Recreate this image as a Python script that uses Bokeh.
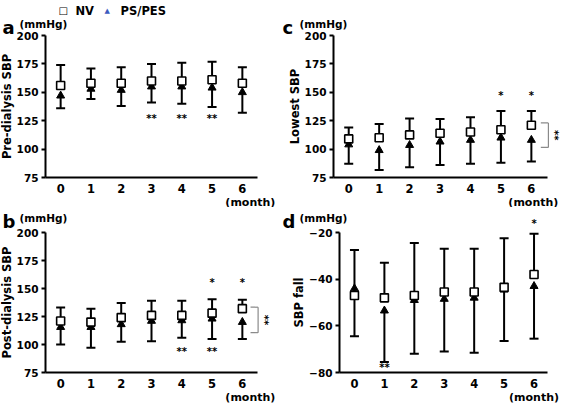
import math
from bokeh.plotting import figure
from bokeh.models import Label, FixedTicker, Range1d, ColumnDataSource
from bokeh.layouts import column, row
from bokeh.embed import file_html
from bokeh.resources import INLINE

# ---------------- data ----------------
months = [0, 1, 2, 3, 4, 5, 6]

# a: Pre-dialysis SBP
pre_nv_mean = [156, 158, 158, 160, 160, 161, 158]
pre_nv_upper = [174, 171, 172, 175, 176, 177, 172]
pre_ps_mean = [147, 153, 152, 155, 155, 154, 150]
pre_ps_lower = [136, 144, 138, 141, 140, 137, 132]

# b: Post-dialysis SBP
post_nv_mean = [121, 120, 124, 126, 126, 128, 132]
post_nv_upper = [133, 132, 137, 139, 139, 140.5, 140]
post_ps_mean = [115.5, 115.5, 118, 121, 121.5, 123, 120]
post_ps_lower = [100, 97, 102.5, 103, 106, 105, 105]

# c: Lowest SBP
low_nv_mean = [109, 110, 112.5, 114, 115, 117, 121]
low_nv_upper = [119, 122, 127, 126.5, 128, 133.5, 133.5]
low_ps_mean = [104, 99, 103.5, 106.5, 108, 110, 108]
low_ps_lower = [87, 81.5, 84, 86, 87, 88, 89]

# d: SBP fall
fall_nv_mean = [-47, -48, -47, -45.5, -45.5, -43.5, -38]
fall_nv_upper = [-27.5, -33, -24.5, -27, -27, -22.5, -20.5]
fall_ps_mean = [-44, -53.5, -49, -48.5, -48, -44.5, -43]
fall_ps_lower = [-64.5, -75.5, -72, -71, -71.5, -66.5, -65.5]

sbp_ticks = [75, 100, 125, 150, 175, 200]
fall_ticks = [-80, -60, -40, -20]

# significance marks (months)
a_sig_below = [3, 4, 5]
b_sig_above = [5, 6]
b_sig_below = [4, 5]
c_sig_above = [5, 6]
d_sig_above = [6]
d_sig_below = [1]

FONT = "DejaVu Sans"
BLUE = "#3c5bbf"


def bold_label(p, x, y, text, size, **kw):
    lab = Label(x=x, y=y, text=text, text_font=FONT, text_font_style="bold",
                text_font_size=size, text_color="black", **kw)
    p.add_layout(lab)
    return lab


def make_panel(width, height, left, right, top, bottom, x_end, y_start, y_end,
               y_ticks, ylabel, letter, nv_mean, nv_upper, ps_mean, ps_lower,
               letter_base, month_dx, month_dy):
    # the frame fills the whole figure; axes are pinned at the data edges
    x_start = -0.5
    xs = (width - left - right) / (x_end - x_start)
    ys = (height - top - bottom) / (y_end - y_start)
    xr = Range1d(x_start - left / xs, x_end + right / xs)
    yr = Range1d(y_start - bottom / ys, y_end + top / ys)
    p = figure(width=width, height=height, output_backend="svg", toolbar_location=None,
               x_range=xr, y_range=yr, min_border=0)
    p.grid.visible = False
    p.outline_line_color = None
    p.background_fill_color = "white"
    p.border_fill_color = "white"

    xa = p.xaxis[0]
    xa.fixed_location = y_start
    xa.bounds = (x_start, x_end)
    xa.ticker = FixedTicker(ticks=months)
    xa.axis_line_width = 2
    xa.major_tick_out = 0
    xa.major_tick_in = 0
    xa.minor_tick_out = 0
    xa.minor_tick_in = 0
    xa.major_label_standoff = 6
    xa.major_label_text_font = FONT
    xa.major_label_text_font_style = "bold"
    xa.major_label_text_font_size = "11.5px"
    xa.major_label_text_color = "black"

    ya = p.yaxis[0]
    ya.fixed_location = x_start
    ya.bounds = (y_start, y_end)
    ya.ticker = FixedTicker(ticks=y_ticks)
    ya.axis_line_width = 2
    ya.major_tick_out = 4
    ya.major_tick_in = 0
    ya.major_tick_line_width = 2
    ya.minor_tick_out = 0
    ya.minor_tick_in = 0
    ya.major_label_standoff = 3
    ya.major_label_text_font = FONT
    ya.major_label_text_font_style = "bold"
    ya.major_label_text_font_size = "10.5px"
    ya.major_label_text_color = "black"
    ya.axis_label = ylabel
    ya.axis_label_standoff = 0
    ya.axis_label_text_font = FONT
    ya.axis_label_text_font_style = "bold"
    ya.axis_label_text_font_size = "11.5px"
    ya.axis_label_text_color = "black"

    src = ColumnDataSource(dict(x=months, nv_mean=nv_mean, nv_upper=nv_upper,
                                ps_mean=ps_mean, ps_lower=ps_lower))
    p.segment(x0="x", y0="nv_mean", x1="x", y1="nv_upper", source=src,
              line_width=2, line_color="black")
    p.segment(x0="x", y0="ps_lower", x1="x", y1="ps_mean", source=src,
              line_width=2, line_color="black")
    p.scatter(x="x", y="nv_upper", source=src, marker="dash", size=9,
              line_width=2, line_color="black")
    p.scatter(x="x", y="ps_lower", source=src, marker="dash", size=9,
              line_width=2, line_color="black")
    p.scatter(x="x", y="ps_mean", source=src, marker="triangle", size=8,
              fill_color="black", line_color="black")
    p.scatter(x="x", y="nv_mean", source=src, marker="square", size=8,
              fill_color="white", line_color="black", line_width=1.6)

    bold_label(p, x_start, y_end, letter, "18px", x_offset=2 - left,
               y_offset=top - letter_base, text_baseline="alphabetic")
    bold_label(p, x_start, y_end, "(mmHg)", "10.5px", x_offset=19 - left,
               y_offset=top - letter_base + 4, text_baseline="alphabetic")
    bold_label(p, months[-1], y_start, "(month)", "11px", x_offset=month_dx,
               y_offset=-month_dy, text_baseline="top", text_align="center")
    return p


def stars(p, xs, y, text):
    for m in xs:
        bold_label(p, m, y, text, "10px", text_align="center", text_baseline="middle")


def bracket(p, xb, y_top, y_bot):
    p.segment(x0=[xb], y0=[y_top], x1=[xb], y1=[y_bot], line_color="#8a8a8a",
              line_width=1.2)
    p.segment(x0=[xb - 0.25, xb - 0.25], y0=[y_top, y_bot], x1=[xb, xb], y1=[y_top, y_bot],
              line_color="#8a8a8a", line_width=1.2)
    bold_label(p, xb, (y_top + y_bot) / 2, "**", "10px", x_offset=6,
               angle=-math.pi / 2, text_align="center", text_baseline="middle")


pa = make_panel(280, 207, 45, 23, 35, 30, 6.5, 75, 200, sbp_ticks,
                "Pre-dialysis SBP", "a", pre_nv_mean, pre_nv_upper, pre_ps_mean,
                pre_ps_lower, 27, 8, 18)
pc = make_panel(284, 207, 53, 17, 35, 30, 6.53, 75, 200, sbp_ticks,
                "Lowest SBP", "c", low_nv_mean, low_nv_upper, low_ps_mean,
                low_ps_lower, 27, 2, 18)
pb = make_panel(280, 196, 45, 23, 25, 31, 6.5, 75, 200, sbp_ticks,
                "Post-dialysis SBP", "b", post_nv_mean, post_nv_upper, post_ps_mean,
                post_ps_lower, 14, 8, 18)
pd = make_panel(284, 196, 59, 17, 25, 31, 6.45, -80, -20, fall_ticks,
                "SBP fall", "d", fall_nv_mean, fall_nv_upper, fall_ps_mean,
                fall_ps_lower, 14, 0, 18)

L_A, T_A = 45, 35
pa.add_layout(Label(x=-0.5, y=200, x_offset=58 - L_A, y_offset=T_A - 10, text="\u25a1",
                    text_font="DejaVu Sans", text_font_size="10px", text_color="black",
                    text_baseline="alphabetic"))
bold_label(pa, -0.5, 200, "NV", "11.5px", x_offset=75 - L_A, y_offset=T_A - 10,
           text_baseline="alphabetic")
pa.add_layout(Label(x=-0.5, y=200, x_offset=104 - L_A, y_offset=T_A - 10, text="\u25b2",
                    text_font="DejaVu Sans", text_font_size="7px", text_color=BLUE,
                    text_baseline="alphabetic"))
bold_label(pa, -0.5, 200, "PS/PES", "11.5px", x_offset=120 - L_A, y_offset=T_A - 10,
           text_baseline="alphabetic")

stars(pa, a_sig_below, 127, "**")
stars(pb, b_sig_above, 155.5, "*")
stars(pb, b_sig_below, 94, "**")
stars(pc, c_sig_above, 147, "*")
stars(pd, d_sig_above, -16, "*")
stars(pd, d_sig_below, -78, "**")
bracket(pb, 6.52, 133.3, 110.6)
bracket(pc, 6.56, 123, 101.5)

layout = column(row(pa, pc), row(pb, pd))
open("out.html", "w").write(file_html(layout, INLINE))
